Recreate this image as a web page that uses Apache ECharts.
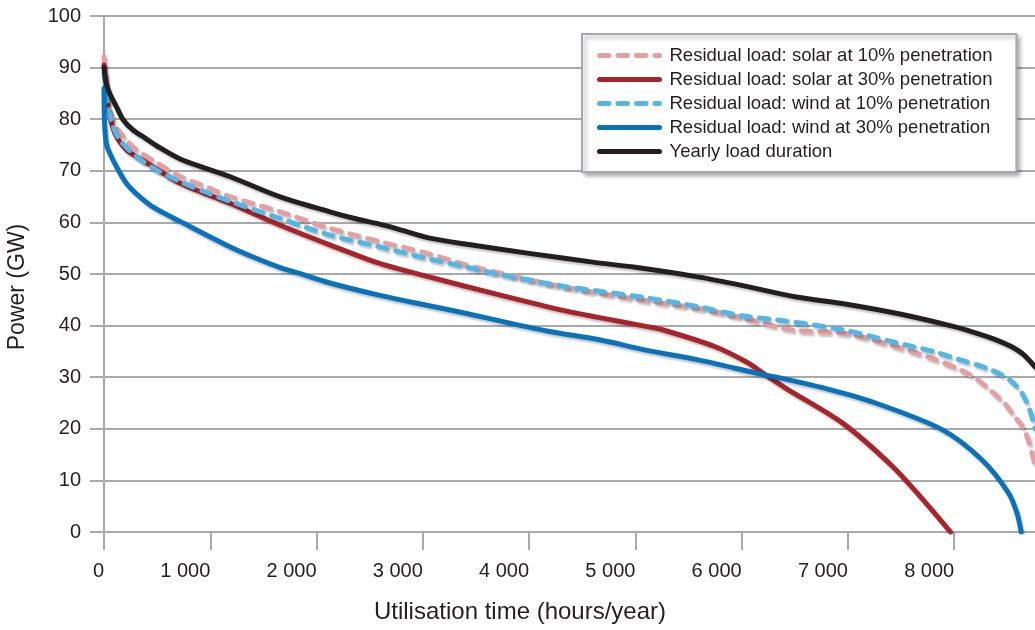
<!DOCTYPE html>
<html>
<head>
<meta charset="utf-8">
<script src="https://cdn.jsdelivr.net/npm/echarts@6/dist/echarts.min.js"></script>
<style>
html,body{margin:0;padding:0;background:#fff;}
#chart{width:1035px;height:630px;}
</style>
</head>
<body>
<div id="chart"></div>
<script>
// ---- Data (hours/year, GW) ----
var seriesNames = [
  'Residual load: solar at 10% penetration',
  'Residual load: solar at 30% penetration',
  'Residual load: wind at 10% penetration',
  'Residual load: wind at 30% penetration',
  'Yearly load duration'
];
var solar10 = [[0,92.1],[23,85.7],[86,79.5],[200,76.2],[304,74.1],[475,71.8],[716,68.9],[980,66.7],[1183,65.0],[1651,62.1],[2118,58.9],[2586,56.3],[3023,54.1],[3400,51.8],[3700,50.3],[4300,47.6],[5100,44.8],[5600,43.3],[6000,41.5],[6500,39.1],[7000,38.4],[7500,35.6],[7800,33.6],[8050,31.5],[8200,29.8],[8350,27.3],[8480,24.8],[8570,22.3],[8640,20.5],[8700,17.6],[8760,13]];
var solar30 = [[0,90.5],[8,88.9],[39,82.4],[101,77.3],[210,74.1],[367,72.0],[491,70.4],[716,67.6],[1183,63.7],[1651,59.5],[2118,55.7],[2586,52.1],[3050,49.5],[3710,46],[4330,42.9],[4650,41.6],[5110,39.8],[5270,39.1],[5740,36],[6050,32.9],[6200,30.8],[6420,27.8],[6950,21.1],[7420,12.7],[7730,5.7],[7965,0]];
var wind10 = [[0,88.9],[39,82.4],[86,78.6],[148,76.0],[304,72.8],[491,70.2],[716,67.9],[980,65.7],[1183,64.1],[1651,60.8],[2118,57.6],[2586,55.3],[3023,53.1],[3400,51.4],[3700,50],[4330,47.6],[4650,46.7],[5100,45.4],[5580,43.7],[6000,41.9],[6330,41.1],[6950,39.2],[7450,36.7],[7800,35],[8050,33.4],[8300,31.8],[8450,30.4],[8550,29],[8640,26.8],[8710,23.7],[8760,20]];
var wind30 = [[0,86],[5,79.2],[20,75.5],[39,74.1],[117,70.8],[210,67.6],[335,65.0],[475,62.8],[716,60.2],[1183,55.3],[1450,52.9],[1651,51.3],[1840,50.1],[2118,48.3],[2586,45.9],[3023,44.0],[3400,42.4],[4180,38.9],[4650,37.3],[5110,35.2],[5580,33.4],[6200,30.5],[6330,30.0],[6830,27.6],[7260,25],[7890,19.8],[8260,14],[8510,7.6],[8590,3.7],[8630,0]];
var loadDuration = [[0,90],[20,87],[54,85],[117,82.4],[180,79.9],[273,77.9],[398,76.2],[491,74.9],[716,72.3],[1000,70.2],[1183,68.9],[1651,65.0],[2118,62.1],[2350,60.8],[2586,59.7],[2800,58.5],[3054,57.0],[3400,55.8],[4000,54.0],[4600,52.3],[5000,51.3],[5600,49.4],[6000,47.8],[6500,45.6],[7000,44.1],[7500,42.2],[8000,39.8],[8200,38.6],[8400,37.2],[8550,35.8],[8650,34.4],[8760,32]];

var xTitle = 'Utilisation time (hours/year)';
var yTitle = 'Power (GW)';

var seriesData = [solar10, solar30, wind10, wind30, loadDuration];
var colors = ['#e3a0a3', '#a6242a', '#55b6e6', '#0a72ba', '#231f20'];
var dashed = [true, false, true, false, false];

var FONT = '"Liberation Sans", Arial, Helvetica, sans-serif';
var TXT = '#231f20';
var GRID = '#a7a9ac';

function fmt(v){ return String(v).replace(/\B(?=(\d{3})+(?!\d))/g, ' '); }

var chart = echarts.init(document.getElementById('chart'), null, {renderer:'canvas'});
var series = seriesNames.map(function(n, i){
  return {
    name: n,
    type: 'line',
    data: seriesData[i],
    symbol: 'none',
    smooth: 0.3,
    itemStyle: {color: 'rgba(0,0,0,0)', opacity: 0},
    lineStyle: {
      width: 5,
      color: colors[i],
      type: dashed[i] ? [9.5, 9] : 'solid',
      cap: 'round',
      join: 'round',
      shadowColor: 'rgba(0,0,0,0.22)',
      shadowBlur: 2,
      shadowOffsetX: 1.5,
      shadowOffsetY: 2.5
    },
    emphasis: {disabled: true},
    animation: false
  };
});

chart.setOption({
  animation: false,
  textStyle: {fontFamily: FONT, color: TXT},
  grid: {left: 104, top: 16, width: 936, height: 516, containLabel: false},
  xAxis: {
    type: 'value', min: 0, max: 8760, interval: 1000,
    axisLine: {show: true, onZero: false, lineStyle: {color: GRID, width: 2}},
    axisTick: {show: true, length: 18, lineStyle: {color: GRID, width: 2}},
    splitLine: {show: false},
    axisLabel: {
      fontSize: 20, color: TXT, fontFamily: FONT, margin: 29,
      align: 'right', showMaxLabel: false,
      formatter: function(v){ return fmt(v); }
    }
  },
  yAxis: {
    type: 'value', min: 0, max: 100, interval: 10,
    axisLine: {show: true, lineStyle: {color: GRID, width: 2}},
    axisTick: {show: true, length: 14, lineStyle: {color: GRID, width: 2}},
    splitLine: {show: true, lineStyle: {color: GRID, width: 2}},
    axisLabel: {fontSize: 20, color: TXT, fontFamily: FONT, margin: 23}
  },
  legend: {
    orient: 'vertical', left: 582, top: 34,
    padding: [12, 24, 11, 15],
    itemWidth: 60, itemHeight: 14, itemGap: 5,
    backgroundColor: '#ffffff',
    borderColor: GRID, borderWidth: 2, borderRadius: 0,
    shadowColor: 'rgba(0,0,0,0.3)', shadowBlur: 4, shadowOffsetX: 3, shadowOffsetY: 3,
    textStyle: {fontSize: 18.5, color: TXT, fontFamily: FONT, padding: [0, 0, 0, 5]},
    lineStyle: {width: 5},
    itemStyle: {opacity: 0, color: 'rgba(0,0,0,0)', borderWidth: 0},
    selectedMode: false,
    data: seriesNames
  },
  graphic: [
    {type: 'text', x: 520, y: 612, style: {text: xTitle, font: '24px ' + FONT, fill: TXT, align: 'center', verticalAlign: 'middle'}},
    {type: 'text', x: 18, y: 287, rotation: Math.PI/2, style: {text: yTitle, font: '23px ' + FONT, fill: TXT, align: 'center', verticalAlign: 'middle'}}
  ],
  series: series
});
</script>
</body>
</html>
